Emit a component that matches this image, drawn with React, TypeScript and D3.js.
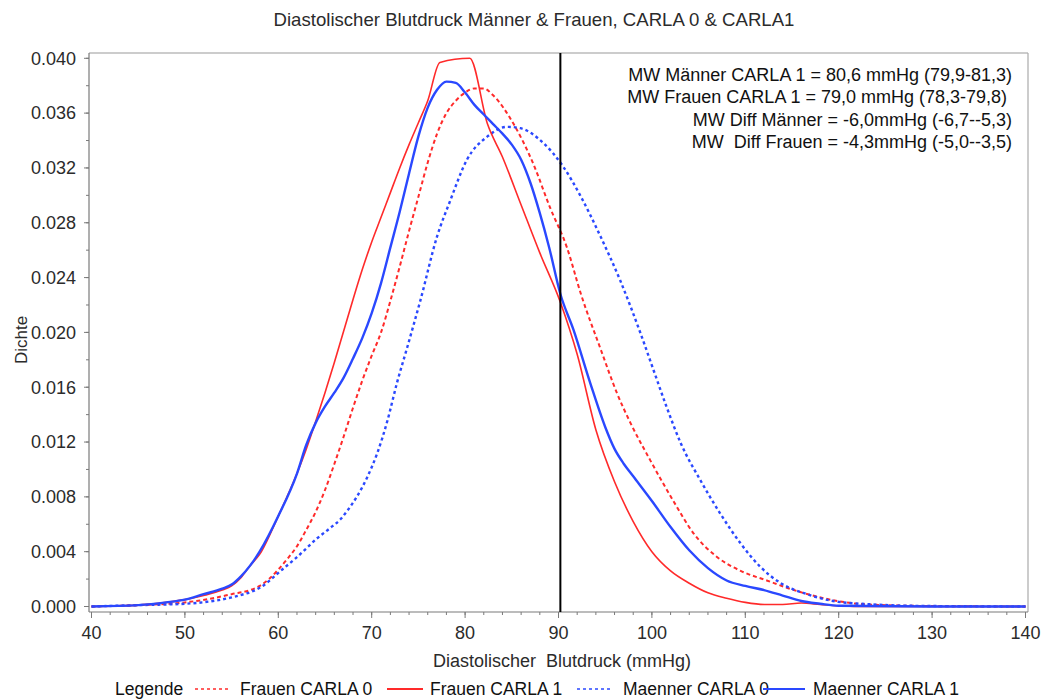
import React from "react";
import * as d3 from "d3";

// ---------- data ----------
const TITLE = "Diastolischer Blutdruck Männer & Frauen, CARLA 0 & CARLA1";
const X_LABEL = "Diastolischer  Blutdruck (mmHg)";
const Y_LABEL = "Dichte";
const X_TICKS = [40, 50, 60, 70, 80, 90, 100, 110, 120, 130, 140];
const Y_TICKS = [0, 0.004, 0.008, 0.012, 0.016, 0.02, 0.024, 0.028, 0.032, 0.036, 0.04];
const REF_LINE = 90.2;

const ANNOTATIONS = [
  "MW Männer CARLA 1 = 80,6 mmHg (79,9-81,3)",
  "MW Frauen CARLA 1 = 79,0 mmHg (78,3-79,8) ",
  "MW Diff Männer = -6,0mmHg (-6,7--5,3)",
  "MW  Diff Frauen = -4,3mmHg (-5,0--3,5)",
];

const frauen0X = [40, 45, 50, 53, 55, 57, 58, 59, 60, 61, 62, 63, 64, 65, 66, 67, 68, 69, 70, 71, 72, 73, 74, 75, 76, 77, 78, 79, 80, 81, 82, 83, 85.2, 87.3, 89.1, 90.9, 92.4, 94.5, 96.3, 97.7, 99.8, 102.3, 104.5, 107, 109.5, 112.3, 115.2, 118.4, 122, 125, 130, 140];
const frauen0Y = [0, 0.0001, 0.0003, 0.0006, 0.0009, 0.0012, 0.0015, 0.002, 0.0027, 0.0035, 0.0044, 0.0056, 0.0069, 0.0085, 0.0104, 0.0124, 0.0145, 0.0165, 0.0183, 0.02, 0.0223, 0.0248, 0.0274, 0.0299, 0.0324, 0.0345, 0.036, 0.0369, 0.0375, 0.0378, 0.0378, 0.0373, 0.0352, 0.0323, 0.0291, 0.0262, 0.0228, 0.0188, 0.0155, 0.0134, 0.0107, 0.0077, 0.0053, 0.0036, 0.0026, 0.0019, 0.0012, 0.0006, 0.0002, 0.0001, 0.00003, 0];

const frauen1X = [40, 45, 48, 50, 52, 54, 55, 56, 57, 58, 60, 62, 63, 64, 65, 66, 67, 68, 69, 70, 71, 72, 73, 74, 75, 76, 77.3, 80.5, 82.4, 84, 86, 88, 90.2, 92, 94, 96, 98, 100, 102, 104, 106, 108, 110, 112, 114, 116, 118, 120, 122, 130, 140];
const frauen1Y = [0, 0.0001, 0.0003, 0.0005, 0.0008, 0.0012, 0.0015, 0.0021, 0.003, 0.0038, 0.0066, 0.0097, 0.0115, 0.0135, 0.0156, 0.0178, 0.0201, 0.0224, 0.0246, 0.0266, 0.0284, 0.0302, 0.032, 0.0337, 0.0353, 0.0369, 0.0397, 0.04, 0.0352, 0.0328, 0.0293, 0.0258, 0.0222, 0.0184, 0.0129, 0.0091, 0.0062, 0.004, 0.0026, 0.0017, 0.001, 0.0006, 0.0003, 0.00015, 0.00015, 0.00025, 0.00015, 0.00005, 0, 0, 0];

const maenner0X = [40, 45, 50, 53, 55.2, 58.1, 60.6, 62, 64.2, 65.5, 66.7, 67.4, 68.4, 69.5, 70.6, 71.7, 72.7, 73.8, 75.2, 77, 78.4, 80.2, 82.4, 84.5, 85.9, 88.4, 90.5, 92.4, 94.5, 96.6, 98.8, 100.2, 101.5, 103.1, 105.2, 107.3, 109.5, 111.6, 113.8, 116.6, 119.4, 123.7, 128, 140];
const maenner0Y = [0, 0.0001, 0.0002, 0.0004, 0.0007, 0.0014, 0.0028, 0.0036, 0.005, 0.0057, 0.0064, 0.007, 0.008, 0.0094, 0.0112, 0.0136, 0.0163, 0.0189, 0.0223, 0.027, 0.0296, 0.0326, 0.0343, 0.035, 0.0349, 0.0338, 0.0321, 0.0299, 0.027, 0.0238, 0.0199, 0.0172, 0.0147, 0.0119, 0.0092, 0.0068, 0.0046, 0.0029, 0.0017, 0.0009, 0.0004, 0.00015, 0.00005, 0];

const maenner1X = [40, 45, 48, 50, 52, 54, 55, 56, 57, 58, 60, 62, 63, 64, 65, 66, 67, 68, 69, 70, 71, 72, 73, 74, 75, 76, 77, 78, 79, 80, 81, 82, 83, 84, 85, 86, 87, 88, 89, 90.2, 91.6, 93.4, 95, 96, 97, 98, 100, 102, 104, 106, 108, 110, 112, 114, 116, 118, 120, 130, 140];
const maenner1Y = [0, 0.0001, 0.0003, 0.0005, 0.0009, 0.0013, 0.0016, 0.0022, 0.003, 0.004, 0.0066, 0.0097, 0.0118, 0.0134, 0.0146, 0.0156, 0.0167, 0.0181, 0.0196, 0.0214, 0.0236, 0.0262, 0.0288, 0.0316, 0.0343, 0.0364, 0.0377, 0.0383, 0.0382, 0.0375, 0.0366, 0.0359, 0.0352, 0.0345, 0.0337, 0.0326, 0.0309, 0.0287, 0.0262, 0.0228, 0.0202, 0.0163, 0.0131, 0.0115, 0.0104, 0.0095, 0.0077, 0.0058, 0.0041, 0.0028, 0.0019, 0.0015, 0.0012, 0.0008, 0.0004, 0.0002, 0.00005, 0, 0];

const SERIES = [
  { name: "Frauen CARLA 0", xs: frauen0X, ys: frauen0Y, color: "#ff2a2a", dash: "4,3", width: 2 },
  { name: "Maenner CARLA 0", xs: maenner0X, ys: maenner0Y, color: "#2a48ff", dash: "3,3", width: 2.4 },
  { name: "Frauen CARLA 1", xs: frauen1X, ys: frauen1Y, color: "#ff2a2a", dash: null, width: 1.6 },
  { name: "Maenner CARLA 1", xs: maenner1X, ys: maenner1Y, color: "#2a48ff", dash: null, width: 2.4 },
];

const LEGEND_ORDER = ["Frauen CARLA 0", "Frauen CARLA 1", "Maenner CARLA 0", "Maenner CARLA 1"];

// ---------- layout ----------
const W = 1046;
const H = 700;
const FRAME = { left: 89, right: 1028, top: 53, bottom: 612 };
const FONT = "'Liberation Sans', Arial, sans-serif";
const TEXT = "#2b2b2b";
const AXIS = "#7a7a7a";

const LEGEND_POS = [
  { lineX: 195, lineW: 33, textX: 240 },
  { lineX: 387, lineW: 36, textX: 430 },
  { lineX: 577, lineW: 33, textX: 623 },
  { lineX: 763, lineW: 42, textX: 813 },
];

export default function App() {
  const x = d3.scaleLinear().domain([40, 140]).range([91.5, 1025.5]);
  const y = d3.scaleLinear().domain([0, 0.04]).range([606.5, 58.3]);

  const line = (xs: number[], ys: number[]) =>
    d3
      .line<number>()
      .x((_, i) => x(xs[i]))
      .y((_, i) => y(ys[i]))
      .curve(d3.curveMonotoneX)(ys) || "";

  const xMinor = d3.range(40, 141, 2);
  const yMinor = d3.range(0, 0.0401, 0.002);

  return (
    <svg
      width={W}
      height={H}
      style={{ position: "absolute", left: 0, top: 0, display: "block", background: "#fff" }}
      fontFamily={FONT}
    >
      <defs>
        <clipPath id="plotclip">
          <rect x={FRAME.left} y={FRAME.top} width={FRAME.right - FRAME.left} height={FRAME.bottom - FRAME.top} />
        </clipPath>
      </defs>
      <rect x={0} y={0} width={W} height={H} fill="#fff" />

      {/* title */}
      <text x={534} y={26} textAnchor="middle" fontSize={18.6} fill={TEXT}>
        {TITLE}
      </text>

      {/* frame */}
      <line x1={FRAME.left} x2={FRAME.right} y1={FRAME.top} y2={FRAME.top} stroke="#999" strokeWidth={1.2} />
      <line x1={FRAME.right} x2={FRAME.right} y1={FRAME.top} y2={FRAME.bottom} stroke="#aaa" strokeWidth={1.2} />
      <line x1={FRAME.left} x2={FRAME.left} y1={FRAME.top} y2={FRAME.bottom} stroke={AXIS} strokeWidth={1.2} />
      <line x1={FRAME.left} x2={FRAME.right} y1={FRAME.bottom} y2={FRAME.bottom} stroke={AXIS} strokeWidth={1.2} />

      {/* y ticks */}
      {yMinor.map((v, i) => (
        <line key={"ym" + i} x1={FRAME.left - 3} x2={FRAME.left} y1={y(v)} y2={y(v)} stroke={AXIS} strokeWidth={1} />
      ))}
      {Y_TICKS.map((v) => (
        <g key={"y" + v}>
          <line x1={FRAME.left - 5} x2={FRAME.left} y1={y(v)} y2={y(v)} stroke={AXIS} strokeWidth={1} />
          <text x={FRAME.left - 13} y={y(v)} dy="0.35em" textAnchor="end" fontSize={18} fill={TEXT}>
            {v.toFixed(3)}
          </text>
        </g>
      ))}

      {/* x ticks */}
      {xMinor.map((v, i) => (
        <line key={"xm" + i} x1={x(v)} x2={x(v)} y1={FRAME.bottom} y2={FRAME.bottom + 3} stroke={AXIS} strokeWidth={1} />
      ))}
      {X_TICKS.map((v) => (
        <g key={"x" + v}>
          <line x1={x(v)} x2={x(v)} y1={FRAME.bottom} y2={FRAME.bottom + 6} stroke={AXIS} strokeWidth={1} />
          <text x={x(v)} y={639} textAnchor="middle" fontSize={18} fill={TEXT}>
            {v}
          </text>
        </g>
      ))}

      {/* axis labels */}
      <text x={562} y={667} textAnchor="middle" fontSize={18} fill={TEXT} style={{ whiteSpace: "pre" }}>
        {X_LABEL}
      </text>
      <text transform="translate(27,340) rotate(-90)" textAnchor="middle" fontSize={17} fill={TEXT}>
        {Y_LABEL}
      </text>

      {/* curves */}
      <g clipPath="url(#plotclip)">
        {SERIES.map((s) => (
          <path
            key={s.name}
            d={line(s.xs, s.ys)}
            fill="none"
            stroke={s.color}
            strokeWidth={s.width}
            strokeDasharray={s.dash || undefined}
            strokeLinejoin="round"
          />
        ))}
        <line x1={x(REF_LINE)} x2={x(REF_LINE)} y1={FRAME.top} y2={FRAME.bottom} stroke="#000" strokeWidth={2} />
      </g>

      {/* annotations */}
      {ANNOTATIONS.map((t, i) => (
        <text
          key={i}
          x={1012}
          y={81 + i * 22.3}
          textAnchor="end"
          fontSize={18}
          fill="#111"
          style={{ whiteSpace: "pre" }}
        >
          {t}
        </text>
      ))}

      {/* legend */}
      <text x={115} y={695} fontSize={17.5} fill="#111">
        Legende
      </text>
      {LEGEND_ORDER.map((name, i) => {
        const s = SERIES.find((d) => d.name === name)!;
        const p = LEGEND_POS[i];
        return (
          <g key={name}>
            <line
              x1={p.lineX}
              x2={p.lineX + p.lineW}
              y1={689}
              y2={689}
              stroke={s.color}
              strokeWidth={s.dash ? 1.6 : 2}
              strokeDasharray={s.dash ? "3,3" : undefined}
            />
            <text x={p.textX} y={695} fontSize={17.5} fill="#111">
              {name}
            </text>
          </g>
        );
      })}
    </svg>
  );
}
